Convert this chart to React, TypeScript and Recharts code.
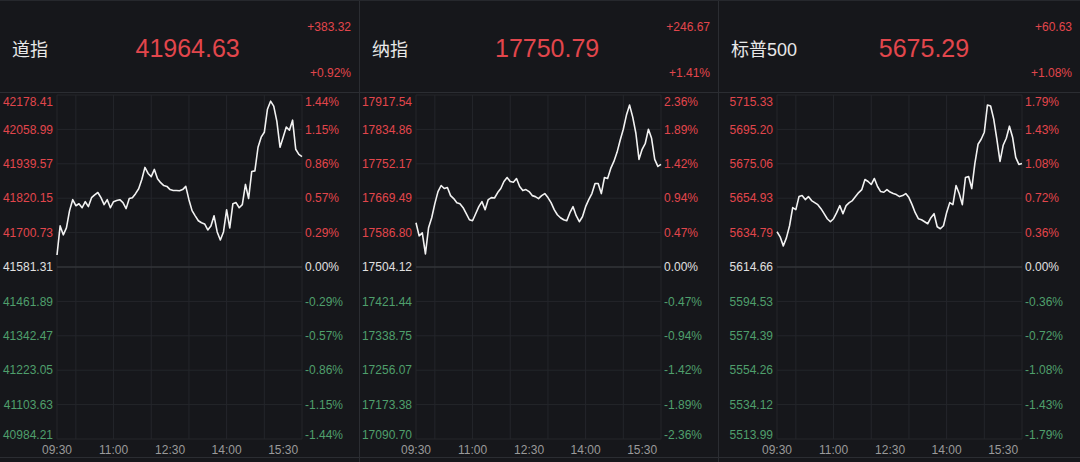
import React from "react";
import { LineChart, Line, XAxis, YAxis, CartesianGrid, ReferenceLine } from "recharts";

const times = [
  "09:30", "09:35", "09:40", "09:45", "09:50", "09:55", "10:00", "10:05", "10:10", "10:15",
  "10:20", "10:25", "10:30", "10:35", "10:40", "10:45", "10:50", "10:55", "11:00", "11:05",
  "11:10", "11:15", "11:20", "11:25", "11:30", "11:35", "11:40", "11:45", "11:50", "11:55",
  "12:00", "12:05", "12:10", "12:15", "12:20", "12:25", "12:30", "12:35", "12:40", "12:45",
  "12:50", "12:55", "13:00", "13:05", "13:10", "13:15", "13:20", "13:25", "13:30", "13:35",
  "13:40", "13:45", "13:50", "13:55", "14:00", "14:05", "14:10", "14:15", "14:20", "14:25",
  "14:30", "14:35", "14:40", "14:45", "14:50", "14:55", "15:00", "15:05", "15:10", "15:15",
  "15:20", "15:25", "15:30", "15:35", "15:40", "15:45", "15:50", "15:55", "16:00",
];

const dowValues = [
  41623, 41724, 41693, 41717, 41777, 41815, 41794, 41801, 41787, 41808,
  41791, 41822, 41832, 41840, 41822, 41798, 41815, 41787, 41808, 41812,
  41815, 41805, 41784, 41819, 41822, 41836, 41853, 41885, 41927, 41906,
  41895, 41920, 41888, 41874, 41864, 41861, 41850, 41847, 41847, 41846,
  41850, 41861, 41815, 41777, 41759, 41742, 41735, 41731, 41710, 41724,
  41759, 41703, 41675, 41703, 41780, 41717, 41801, 41805, 41787, 41798,
  41868, 41819, 41913, 41915, 41997, 42032, 42049, 42129, 42157, 42140,
  42087, 41997, 42032, 42067, 42056, 42091, 41990, 41972, 41964.63,
];

const nasdaqValues = [
  17610.5, 17579.0, 17586.3, 17535.5, 17598.4, 17622.6, 17656.4, 17685.4, 17700.0, 17692.7,
  17695.1, 17675.7, 17668.5, 17658.8, 17656.4, 17646.7, 17632.2, 17617.7, 17615.3, 17632.2,
  17649.2, 17661.2, 17641.9, 17666.1, 17670.9, 17670.0, 17683.0, 17692.7, 17709.6, 17719.3,
  17709.6, 17708.0, 17716.8, 17697.5, 17687.8, 17690.2, 17685.4, 17675.7, 17673.3, 17668.5,
  17675.7, 17680.6, 17670.9, 17658.8, 17641.9, 17629.8, 17622.6, 17617.7, 17615.3, 17634.7,
  17649.2, 17627.4, 17612.9, 17625.0, 17649.2, 17666.1, 17680.6, 17704.8, 17704.8, 17680.6,
  17719.3, 17716.8, 17741.0, 17757.9, 17779.7, 17808.7, 17835.3, 17869.2, 17893.3, 17864.3,
  17825.6, 17762.8, 17787.0, 17801.5, 17835.3, 17813.5, 17762.8, 17745.9, 17750.79,
];

const spxValues = [
  5635.27, 5632.32, 5627.02, 5631.73, 5638.8, 5649.4, 5648.22, 5655.87, 5656.46, 5654.11,
  5655.87, 5653.52, 5652.34, 5651.16, 5648.81, 5645.86, 5642.92, 5641.15, 5642.92, 5646.45,
  5650.57, 5645.86, 5650.57, 5652.34, 5653.52, 5655.87, 5658.23, 5659.99, 5665.88, 5664.7,
  5662.94, 5666.47, 5661.76, 5658.82, 5658.4, 5659.99, 5658.5, 5657.64, 5657.05, 5655.87,
  5656.46, 5657.64, 5655.28, 5651.16, 5646.45, 5642.92, 5642.33, 5641.15, 5639.98, 5643.51,
  5645.86, 5638.21, 5637.03, 5638.8, 5646.45, 5652.34, 5651.16, 5662.35, 5657.64, 5651.16,
  5667.06, 5667.65, 5660.57, 5675.3, 5686.49, 5689.43, 5693.55, 5709.5, 5708.86, 5701.2,
  5689.43, 5676.48, 5685.9, 5690.02, 5697.08, 5690.61, 5678.83, 5674.71, 5675.29,
];

const dowTicks = [40984.21, 41103.63, 41223.05, 41342.47, 41461.89, 41581.31, 41700.73, 41820.15, 41939.57, 42058.99, 42178.41];
const nasdaqTicks = [17090.7, 17173.38, 17256.07, 17338.75, 17421.44, 17504.12, 17586.8, 17669.49, 17752.17, 17834.86, 17917.54];
const spxTicks = [5513.99, 5534.12, 5554.26, 5574.39, 5594.53, 5614.66, 5634.79, 5654.93, 5675.06, 5695.2, 5715.33];

const xTickLabels = ["09:30", "11:00", "12:30", "14:00", "15:30"];
const gridTimes = ["09:30", "10:00", "11:00", "12:00", "13:00", "14:00", "15:00", "16:00"];

const BG = "#16171b";
const LINE = "#2b2d32";
const GRID = "#24262b";
const RED = "#e2464c";
const GREEN = "#4f9f6c";
const ZERO = "#e0e0e0";
const FONT = '"Liberation Sans", "Noto Sans CJK SC", sans-serif';

const toMin = (s: string) => {
  const [h, m] = s.split(":").map(Number);
  return h * 60 + m - (9 * 60 + 30);
};

const pct = (v: number, base: number) => ((v / base - 1) * 100).toFixed(2) + "%";

const panels = [
  { name: "道指", price: "41964.63", change: "+383.32", rate: "+0.92%", base: 41581.31, values: dowValues, ticks: dowTicks, width: 359, left: 57 },
  { name: "纳指", price: "17750.79", change: "+246.67", rate: "+1.41%", base: 17504.12, values: nasdaqValues, ticks: nasdaqTicks, width: 358, left: 56 },
  { name: "标普500", price: "5675.29", change: "+60.63", rate: "+1.08%", base: 5614.66, values: spxValues, ticks: spxTicks, width: 361, left: 58 },
];

function YTick(props: any) {
  const { x, y, payload, side, base, min, max } = props;
  const v = payload.value;
  let shift = 0;
  if (Math.abs(v - max) < 0.001) shift = 6.5;
  else if (Math.abs(v - min) < 0.001) shift = -4.5;
  const fill = v > base + 0.001 ? RED : v < base - 0.001 ? GREEN : ZERO;
  return (
    <text x={x} y={y + shift} dy="0.35em" textAnchor={side === "left" ? "end" : "start"} fill={fill} fontSize={12} fontFamily={FONT}>
      {side === "left" ? v.toFixed(2) : pct(v, base)}
    </text>
  );
}

function XTick(props: any) {
  const { x, y, payload } = props;
  const m = payload.value + 9 * 60 + 30;
  const label = String(Math.floor(m / 60)).padStart(2, "0") + ":" + String(m % 60).padStart(2, "0");
  return (
    <text x={x} y={y} dy="0.71em" textAnchor="middle" fill="#9a9a9a" fontSize={12} fontFamily={FONT}>
      {label}
    </text>
  );
}

function Panel({ p, last }: { p: (typeof panels)[number]; last: boolean }) {
  const data = times.map((t, i) => ({ t: toMin(t), v: p.values[i] }));
  const min = p.ticks[0];
  const max = p.ticks[p.ticks.length - 1];
  const right = p.width - p.left - 245;
  return (
    <div style={{ width: p.width, borderRight: last ? "none" : `1px solid ${LINE}`, display: "flex", flexDirection: "column" }}>
      <div style={{ height: 91, borderBottom: `1px solid ${LINE}`, display: "flex", alignItems: "center" }}>
        <div style={{ paddingLeft: 12, marginTop: 3, fontSize: 18, color: "#e8e8e8" }}>{p.name}</div>
        <div style={{ flex: 1, textAlign: "center", paddingLeft: 20, marginTop: 3, fontSize: 25, color: RED }}>{p.price}</div>
        <div
          style={{
            height: 91,
            boxSizing: "border-box",
            padding: "19px 8px 12px 0",
            display: "flex",
            flexDirection: "column",
            justifyContent: "space-between",
            alignItems: "flex-end",
            fontSize: 12,
            color: RED,
            lineHeight: "14px",
          }}
        >
          <div>{p.change}</div>
          <div>{p.rate}</div>
        </div>
      </div>
      <LineChart width={p.width} height={364} data={data} margin={{ top: 2, right: 0, bottom: 0, left: 0 }}>
        <CartesianGrid yAxisId="left" vertical={false} stroke={GRID} />
        {gridTimes.map((g) => (
          <ReferenceLine key={g} yAxisId="left" x={toMin(g)} stroke={GRID} />
        ))}
        <ReferenceLine yAxisId="left" y={p.base} stroke="#3a3c41" />
        <XAxis
          type="number"
          dataKey="t"
          domain={[0, 390]}
          ticks={xTickLabels.map(toMin)}
          interval={0}
          axisLine={false}
          tickLine={false}
          tickSize={0}
          tickMargin={6}
          height={18}
          tick={<XTick />}
        />
        <YAxis
          yAxisId="left"
          orientation="left"
          width={p.left}
          domain={[min, max]}
          allowDataOverflow
          ticks={p.ticks}
          interval={0}
          axisLine={false}
          tickLine={false}
          tickSize={0}
          tickMargin={4}
          tick={<YTick side="left" base={p.base} min={min} max={max} />}
        />
        <YAxis
          yAxisId="right"
          orientation="right"
          width={right}
          domain={[min, max]}
          allowDataOverflow
          ticks={p.ticks}
          interval={0}
          axisLine={false}
          tickLine={false}
          tickSize={0}
          tickMargin={3}
          tick={<YTick side="right" base={p.base} min={min} max={max} />}
        />
        <Line yAxisId="left" type="linear" dataKey="v" stroke="#f2f2f2" strokeWidth={1.6} strokeLinejoin="round" dot={false} isAnimationActive={false} />
      </LineChart>
      <div style={{ flex: 1, borderTop: `1px solid ${LINE}` }} />
    </div>
  );
}

export default function App() {
  return (
    <div style={{ width: 1080, height: 462, background: BG, fontFamily: FONT, display: "flex", boxSizing: "border-box", borderTop: "1px solid #26282d", overflow: "hidden" }}>
      <style>{`body{margin:0;background:${BG}}`}</style>
      {panels.map((p, i) => (
        <Panel key={p.name} p={p} last={i === panels.length - 1} />
      ))}
    </div>
  );
}
